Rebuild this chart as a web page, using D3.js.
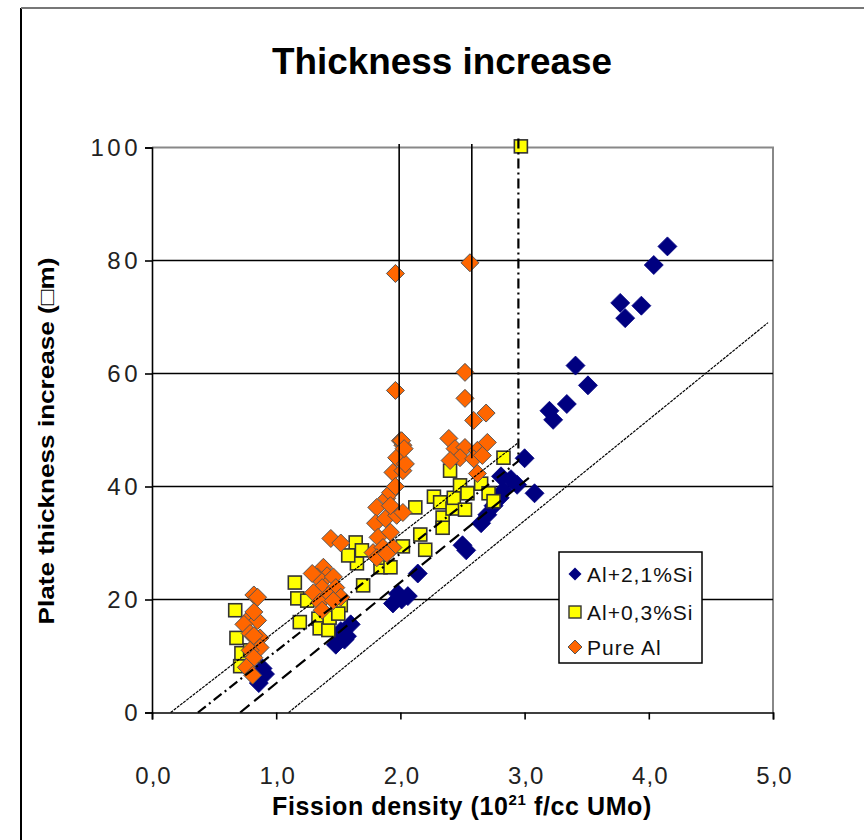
<!DOCTYPE html>
<html>
<head>
<meta charset="utf-8">
<script src="https://cdn.jsdelivr.net/npm/d3@7"></script>
<style>
  html, body { margin: 0; padding: 0; background: #fff; }
  svg { display: block; }
  text { font-family: "Liberation Sans", Arial, sans-serif; }
</style>
</head>
<body>
<svg id="chart" width="864" height="840"></svg>
<script>
// Fission density (1e21 f/cc UMo) vs plate thickness increase (µm)
const xTicks = [0, 1, 2, 3, 4, 5];
const yTicks = [0, 20, 40, 60, 80, 100];

const seriesNames = ["Al+2,1%Si", "Al+0,3%Si", "Pure Al"];

const alSi21 = [
  [0.86, 5.2], [0.91, 6.8], [0.89, 7.8],
  [1.48, 12.0], [1.55, 12.9], [1.60, 15.6], [1.52, 14.4], [1.57, 13.5],
  [1.94, 19.3], [1.98, 21.0], [2.06, 20.6], [2.01, 20.0],
  [2.14, 24.6],
  [2.50, 29.6], [2.53, 28.7],
  [2.65, 33.5], [2.70, 35.0], [2.75, 36.6], [2.80, 38.0], [2.83, 39.3],
  [2.81, 41.8], [2.89, 41.3], [2.94, 40.3], [3.00, 45.0], [3.08, 38.8],
  [3.20, 53.4], [3.23, 51.8], [3.34, 54.6], [3.41, 61.4], [3.51, 57.9],
  [3.77, 72.5], [3.81, 69.8], [3.94, 72.0], [4.04, 79.2], [4.15, 82.5]
];

const alSi03 = [
  [0.67, 18.1], [0.68, 13.2], [0.71, 8.2], [0.72, 10.5], [0.79, 11.0], [0.82, 10.0],
  [1.15, 23.0], [1.17, 20.2], [1.19, 16.0], [1.25, 19.8], [1.34, 16.6], [1.35, 14.9],
  [1.42, 14.6], [1.43, 16.8], [1.52, 19.0], [1.50, 17.5],
  [1.64, 30.1], [1.65, 26.4], [1.58, 27.8], [1.69, 28.7], [1.70, 22.5],
  [1.84, 25.7], [1.84, 27.4], [1.92, 25.7], [2.02, 29.4], [2.12, 36.3], [2.16, 31.5], [2.20, 28.8],
  [2.27, 38.2], [2.32, 37.2], [2.34, 34.5], [2.34, 32.7], [2.40, 42.8], [2.42, 36.1],
  [2.43, 38.0], [2.48, 40.2], [2.52, 35.9], [2.54, 38.8], [2.65, 40.5], [2.71, 38.8],
  [2.75, 37.4], [2.83, 45.1], [2.97, 100.2]
];

const pureAl = [
  [0.82, 20.8], [0.85, 20.4], [0.79, 16.8], [0.85, 16.3], [0.82, 17.8], [0.74, 15.6],
  [0.79, 14.0], [0.87, 13.2], [0.82, 13.6], [0.87, 11.5], [0.79, 11.0], [0.82, 9.7],
  [0.76, 8.0], [0.81, 6.6],
  [1.44, 30.8], [1.52, 30.0], [1.38, 25.7], [1.41, 24.2], [1.33, 24.0], [1.46, 24.0],
  [1.37, 22.1], [1.48, 22.1], [1.30, 21.2], [1.42, 20.7], [1.52, 20.4], [1.35, 19.5],
  [1.46, 19.8], [1.37, 18.1], [1.29, 24.6],
  [1.81, 36.3], [1.89, 37.9], [1.92, 38.9], [1.94, 42.5], [2.02, 42.8], [1.97, 45.1],
  [2.02, 47.3], [2.00, 48.1], [1.80, 33.5], [1.88, 34.3], [1.97, 34.9], [2.02, 35.4],
  [1.82, 31.0], [1.92, 31.9], [1.78, 28.3], [1.86, 29.2], [1.94, 29.2], [1.81, 27.4],
  [1.89, 28.1], [1.92, 36.6], [1.96, 40.0], [2.04, 44.0],
  [1.96, 77.7], [1.96, 57.0], [2.01, 48.1], [2.03, 46.7],
  [2.56, 79.6], [2.52, 60.2], [2.52, 55.6], [2.59, 51.7], [2.69, 53.0], [2.39, 48.5],
  [2.44, 46.7], [2.52, 46.9], [2.62, 46.4], [2.70, 47.8], [2.48, 45.1], [2.59, 44.9],
  [2.66, 45.5], [2.40, 44.6], [2.62, 42.3]
];

// trend / bound lines
const boundLeft  = [[0.15, 0], [2.94, 47.6]];
const fitSi03    = [[0.37, 0], [2.95, 44.5], [2.95, 102]];
const fitSi21    = [[0.71, 0], [3.05, 41.8]];
const boundRight = [[1.10, 0], [4.96, 69.0]];
const dropA      = [[1.99, 35.8], [1.99, 100.6]];
const dropB      = [[2.575, 45.0], [2.575, 100.6]];

const svg = d3.select("#chart");

// outer frame
svg.append("line").attr("x1", 21).attr("x2", 21).attr("y1", 8).attr("y2", 840)
  .attr("stroke", "#000").attr("stroke-width", 2);
svg.append("line").attr("x1", 21).attr("x2", 864).attr("y1", 8).attr("y2", 8)
  .attr("stroke", "#777").attr("stroke-width", 2);

const plot = { left: 152, right: 773, top: 147.5, bottom: 712.5 };
const x = d3.scaleLinear().domain([0, 5]).range([plot.left, plot.right]);
const y = d3.scaleLinear().domain([0, 100]).range([plot.bottom, plot.top]);

// title
svg.append("text")
  .attr("x", 442).attr("y", 74)
  .attr("text-anchor", "middle")
  .attr("font-size", 37).attr("font-weight", "bold")
  .attr("textLength", 340).attr("lengthAdjust", "spacingAndGlyphs")
  .text("Thickness increase");

// plot frame (top & right)
svg.append("path")
  .attr("d", `M${plot.left},${plot.top}H${plot.right}V${plot.bottom}`)
  .attr("fill", "none").attr("stroke", "#888").attr("stroke-width", 2);

// horizontal gridlines
svg.append("g").selectAll("line")
  .data(yTicks.filter(d => d > 0 && d < 100))
  .join("line")
  .attr("x1", plot.left).attr("x2", plot.right)
  .attr("y1", d => y(d)).attr("y2", d => y(d))
  .attr("stroke", "#000").attr("stroke-width", 1.6);

// axes
const xAxis = svg.append("g")
  .attr("transform", `translate(0,${plot.bottom})`)
  .call(d3.axisBottom(x).tickValues(xTicks).tickSize(7).tickPadding(47)
    .tickFormat(d => d3.format(".1f")(d).replace(".", ",")));
const yAxis = svg.append("g")
  .attr("transform", `translate(${plot.left},0)`)
  .call(d3.axisLeft(y).tickValues(yTicks).tickSize(7).tickPadding(4));

[xAxis, yAxis].forEach(g => {
  g.select(".domain").attr("stroke", "#000").attr("stroke-width", 1.6);
  g.selectAll(".tick line").attr("stroke", "#000").attr("stroke-width", 1.6);
  g.selectAll(".tick text")
    .attr("font-family", "'Liberation Sans', Arial, sans-serif")
    .attr("font-size", 24).attr("fill", "#222");
});
xAxis.selectAll(".tick text").attr("letter-spacing", 1).attr("dx", 1);
yAxis.selectAll(".tick text").attr("letter-spacing", 3.5);

// axis titles
const xt = svg.append("text")
  .attr("x", 462).attr("y", 815)
  .attr("text-anchor", "middle")
  .attr("font-size", 25).attr("font-weight", "bold")
  .attr("letter-spacing", 0.6);
xt.append("tspan").text("Fission density (10");
xt.append("tspan").attr("font-size", 15).attr("dy", -10).text("21");
xt.append("tspan").attr("dy", 10).text(" f/cc UMo)");

svg.append("text")
  .attr("transform", "translate(54,441) rotate(-90)")
  .attr("text-anchor", "middle")
  .attr("font-size", 22).attr("font-weight", "bold")
  .attr("textLength", 367).attr("lengthAdjust", "spacingAndGlyphs")
  .text("Plate thickness increase (\u25A1m)");

// markers
const diamond = s => `M0,${-s}L${s},0L0,${s}L${-s},0Z`;

const gMarks = svg.append("g");
gMarks.append("g").selectAll("path").data(alSi21).join("path")
  .attr("d", diamond(9.5))
  .attr("transform", d => `translate(${x(d[0])},${y(d[1])})`)
  .attr("fill", "#000080").attr("stroke", "#000080").attr("stroke-width", 0.8);

gMarks.append("g").selectAll("rect").data(alSi03).join("rect")
  .attr("x", d => x(d[0]) - 6.5).attr("y", d => y(d[1]) - 6.5)
  .attr("width", 13).attr("height", 13)
  .attr("fill", "#ffff00").attr("stroke", "#333").attr("stroke-width", 1.6);

gMarks.append("g").selectAll("path").data(pureAl).join("path")
  .attr("d", diamond(9))
  .attr("transform", d => `translate(${x(d[0])},${y(d[1])})`)
  .attr("fill", "#ff6600").attr("stroke", "#555").attr("stroke-width", 1);

// lines drawn over markers
const line = d3.line().x(d => x(d[0])).y(d => y(d[1]));
const gLines = svg.append("g").attr("fill", "none").attr("stroke", "#000");
gLines.append("path").datum(boundLeft).attr("d", line).attr("stroke-width", 1.2)
  .attr("stroke-dasharray", "3,1");
gLines.append("path").datum(boundRight).attr("d", line).attr("stroke-width", 1.2)
  .attr("stroke-dasharray", "3,1");
gLines.append("path").datum(fitSi03).attr("d", line).attr("stroke-width", 2.2)
  .attr("stroke-dasharray", "10,4,2,4");
gLines.append("path").datum(fitSi21).attr("d", line).attr("stroke-width", 2.2)
  .attr("stroke-dasharray", "12,6");
gLines.append("path").datum(dropA).attr("d", line).attr("stroke-width", 1.6);
gLines.append("path").datum(dropB).attr("d", line).attr("stroke-width", 1.6);

// legend
const lg = svg.append("g").attr("transform", "translate(559,552)");
lg.append("rect").attr("width", 143).attr("height", 111)
  .attr("fill", "#fff").attr("stroke", "#000").attr("stroke-width", 1.5);
const rows = [22, 60, 95];
seriesNames.forEach((name, i) => {
  const row = lg.append("g").attr("transform", `translate(16,${rows[i]})`);
  if (i === 0) {
    row.append("path").attr("d", diamond(6.5)).attr("fill", "#000080");
  } else if (i === 1) {
    row.append("rect").attr("x", -6).attr("y", -6).attr("width", 12).attr("height", 12)
      .attr("fill", "#ffff00").attr("stroke", "#333").attr("stroke-width", 1.4);
  } else {
    row.append("path").attr("d", diamond(7)).attr("fill", "#ff6600")
      .attr("stroke", "#555").attr("stroke-width", 1);
  }
  row.append("text").attr("x", 12).attr("y", 8)
    .attr("font-size", 21).attr("fill", "#111").attr("letter-spacing", 1)
    .text(name);
});
</script>
</body>
</html>
